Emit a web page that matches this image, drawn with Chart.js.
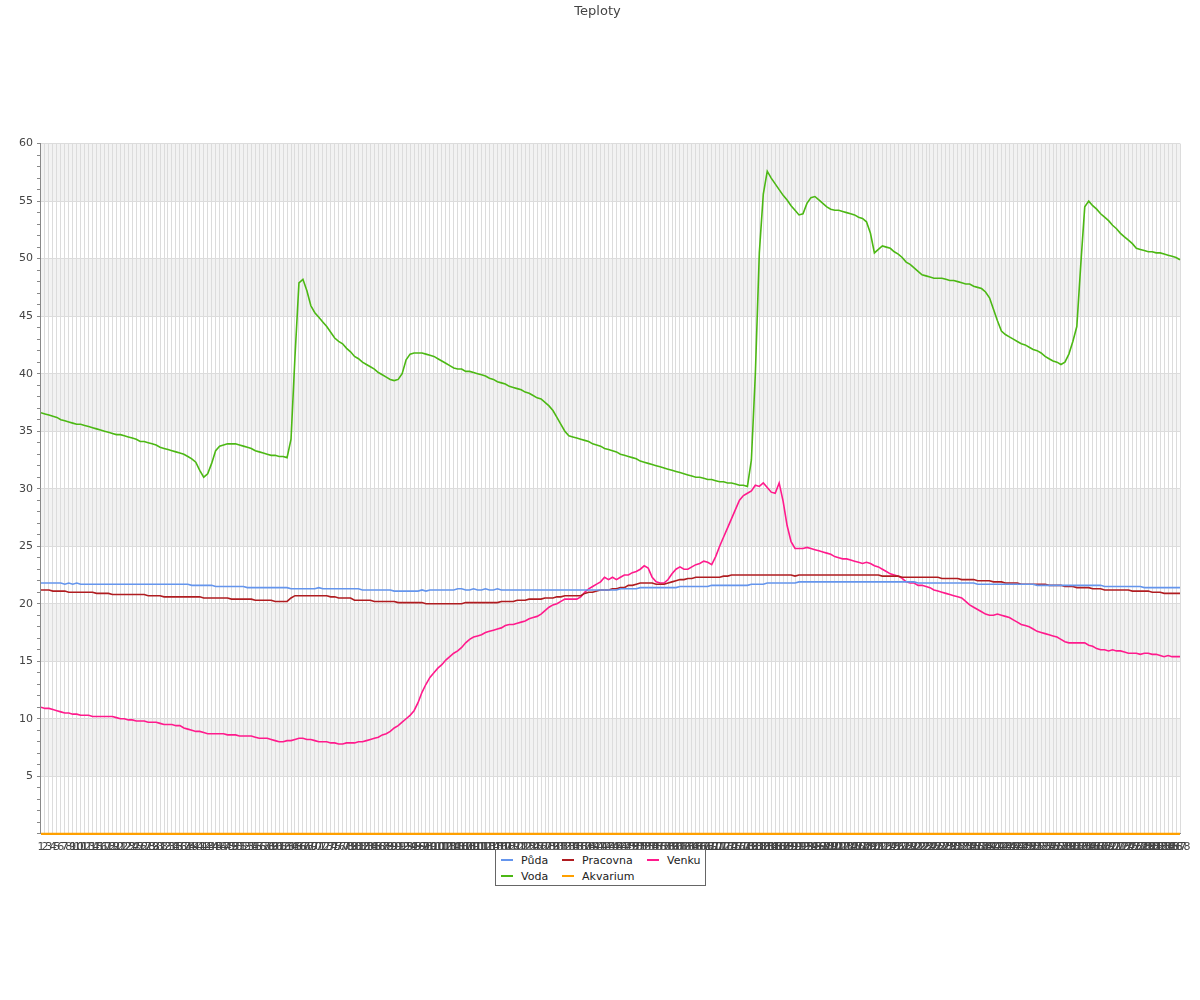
<!DOCTYPE html>
<html>
<head>
<meta charset="utf-8">
<script src="https://cdn.jsdelivr.net/npm/chart.js@4"></script>
<style>
  body { margin: 0; background: #fff; font-family: 'DejaVu Sans', sans-serif; }
  #wrap { position: relative; width: 1200px; height: 1000px; }
  #legend {
    position: absolute; left: 495px; top: 849px; width: 209px; height: 35px;
    border: 1px solid #666; background: #fff; font-size: 11px; color: #222;
  }
  #legend .it { position: absolute; white-space: nowrap; line-height: 13px; }
  #legend .mk { display: inline-block; width: 12px; height: 2px; vertical-align: middle; margin-right: 8px; position: relative; top: -1px; }
</style>
</head>
<body>
<div id="wrap">
  <canvas id="chart" width="1200" height="1000"></canvas>
  <div id="legend"></div>
</div>
<script>
// x: one sample every 5 minutes, 288 points
const labels = Array.from({ length: 288 }, (_, i) => String(i + 1));

const puda = [
  21.8, 21.8, 21.8, 21.8, 21.8, 21.8, 21.7, 21.8, 21.7, 21.8,
  21.7, 21.7, 21.7, 21.7, 21.7, 21.7, 21.7, 21.7, 21.7, 21.7,
  21.7, 21.7, 21.7, 21.7, 21.7, 21.7, 21.7, 21.7, 21.7, 21.7,
  21.7, 21.7, 21.7, 21.7, 21.7, 21.7, 21.7, 21.7, 21.6, 21.6,
  21.6, 21.6, 21.6, 21.6, 21.5, 21.5, 21.5, 21.5, 21.5, 21.5,
  21.5, 21.5, 21.4, 21.4, 21.4, 21.4, 21.4, 21.4, 21.4, 21.4,
  21.4, 21.4, 21.4, 21.3, 21.3, 21.3, 21.3, 21.3, 21.3, 21.3,
  21.4, 21.3, 21.3, 21.3, 21.3, 21.3, 21.3, 21.3, 21.3, 21.3,
  21.3, 21.2, 21.2, 21.2, 21.2, 21.2, 21.2, 21.2, 21.2, 21.1,
  21.1, 21.1, 21.1, 21.1, 21.1, 21.1, 21.2, 21.1, 21.2, 21.2,
  21.2, 21.2, 21.2, 21.2, 21.2, 21.3, 21.3, 21.2, 21.2, 21.3,
  21.2, 21.2, 21.3, 21.2, 21.2, 21.3, 21.2, 21.2, 21.2, 21.2,
  21.2, 21.2, 21.2, 21.2, 21.2, 21.2, 21.2, 21.2, 21.2, 21.2,
  21.2, 21.2, 21.2, 21.2, 21.2, 21.2, 21.2, 21.2, 21.2, 21.2,
  21.2, 21.2, 21.2, 21.2, 21.2, 21.2, 21.3, 21.3, 21.3, 21.3,
  21.3, 21.4, 21.4, 21.4, 21.4, 21.4, 21.4, 21.4, 21.4, 21.4,
  21.4, 21.5, 21.5, 21.5, 21.5, 21.5, 21.5, 21.5, 21.5, 21.6,
  21.6, 21.6, 21.6, 21.6, 21.6, 21.6, 21.6, 21.6, 21.6, 21.7,
  21.7, 21.7, 21.7, 21.8, 21.8, 21.8, 21.8, 21.8, 21.8, 21.8,
  21.8, 21.9, 21.9, 21.9, 21.9, 21.9, 21.9, 21.9, 21.9, 21.9,
  21.9, 21.9, 21.9, 21.9, 21.9, 21.9, 21.9, 21.9, 21.9, 21.9,
  21.9, 21.9, 21.9, 21.9, 21.9, 21.9, 21.9, 21.9, 21.9, 21.9,
  21.9, 21.8, 21.8, 21.8, 21.8, 21.8, 21.8, 21.8, 21.8, 21.8,
  21.8, 21.8, 21.8, 21.8, 21.8, 21.8, 21.7, 21.7, 21.7, 21.7,
  21.7, 21.7, 21.7, 21.7, 21.7, 21.7, 21.7, 21.7, 21.7, 21.7,
  21.7, 21.6, 21.6, 21.6, 21.6, 21.6, 21.6, 21.6, 21.6, 21.6,
  21.6, 21.6, 21.6, 21.6, 21.6, 21.6, 21.6, 21.6, 21.5, 21.5,
  21.5, 21.5, 21.5, 21.5, 21.5, 21.5, 21.5, 21.5, 21.4, 21.4,
  21.4, 21.4, 21.4, 21.4, 21.4, 21.4, 21.4, 21.4
];

const voda = [
  36.6, 36.5, 36.4, 36.3, 36.2, 36.0, 35.9, 35.8, 35.7, 35.6,
  35.6, 35.5, 35.4, 35.3, 35.2, 35.1, 35.0, 34.9, 34.8, 34.7,
  34.7, 34.6, 34.5, 34.4, 34.3, 34.1, 34.1, 34.0, 33.9, 33.8,
  33.6, 33.5, 33.4, 33.3, 33.2, 33.1, 33.0, 32.8, 32.6, 32.3,
  31.6, 31.0, 31.3, 32.2, 33.3, 33.7, 33.8, 33.9, 33.9, 33.9,
  33.8, 33.7, 33.6, 33.5, 33.3, 33.2, 33.1, 33.0, 32.9, 32.9,
  32.8, 32.8, 32.7, 34.3, 41.5, 47.9, 48.2, 47.2, 45.9, 45.3,
  44.9, 44.5, 44.1, 43.6, 43.1, 42.8, 42.6, 42.2, 41.9, 41.5,
  41.3, 41.0, 40.8, 40.6, 40.4, 40.1, 39.9, 39.7, 39.5, 39.4,
  39.5, 40.0, 41.2, 41.7, 41.8, 41.8, 41.8, 41.7, 41.6, 41.5,
  41.3, 41.1, 40.9, 40.7, 40.5, 40.4, 40.4, 40.2, 40.2, 40.1,
  40.0, 39.9, 39.8, 39.6, 39.5, 39.3, 39.2, 39.1, 38.9, 38.8,
  38.7, 38.6, 38.4, 38.3, 38.1, 37.9, 37.8, 37.5, 37.2, 36.8,
  36.2, 35.6, 35.0, 34.6, 34.5, 34.4, 34.3, 34.2, 34.1, 33.9,
  33.8, 33.7, 33.5, 33.4, 33.3, 33.2, 33.0, 32.9, 32.8, 32.7,
  32.6, 32.4, 32.3, 32.2, 32.1, 32.0, 31.9, 31.8, 31.7, 31.6,
  31.5, 31.4, 31.3, 31.2, 31.1, 31.0, 31.0, 30.9, 30.8, 30.8,
  30.7, 30.6, 30.6, 30.5, 30.5, 30.4, 30.3, 30.3, 30.2, 32.5,
  40.0, 50.5, 55.6, 57.6, 57.0, 56.5, 56.0, 55.5, 55.1, 54.6,
  54.2, 53.8, 53.9, 54.8, 55.3, 55.4, 55.1, 54.8, 54.5, 54.3,
  54.2, 54.2, 54.1, 54.0, 53.9, 53.8, 53.6, 53.5, 53.2, 52.2,
  50.5, 50.8, 51.1, 51.0, 50.9, 50.6, 50.4, 50.1, 49.7, 49.5,
  49.2, 48.9, 48.6, 48.5, 48.4, 48.3, 48.3, 48.3, 48.2, 48.1,
  48.1, 48.0, 47.9, 47.8, 47.8, 47.6, 47.5, 47.4, 47.1, 46.6,
  45.6, 44.6, 43.7, 43.4, 43.2, 43.0, 42.8, 42.6, 42.5, 42.3,
  42.1, 42.0, 41.8, 41.5, 41.3, 41.1, 41.0, 40.8, 41.0, 41.7,
  42.8, 44.1, 49.5, 54.5, 55.0, 54.6, 54.3, 53.9, 53.6, 53.3,
  52.9, 52.6, 52.2, 51.9, 51.6, 51.3, 50.9, 50.8, 50.7, 50.6,
  50.6, 50.5, 50.5, 50.4, 50.3, 50.2, 50.1, 49.9
];

const pracovna = [
  21.2, 21.2, 21.2, 21.1, 21.1, 21.1, 21.1, 21.0, 21.0, 21.0,
  21.0, 21.0, 21.0, 21.0, 20.9, 20.9, 20.9, 20.9, 20.8, 20.8,
  20.8, 20.8, 20.8, 20.8, 20.8, 20.8, 20.8, 20.7, 20.7, 20.7,
  20.7, 20.6, 20.6, 20.6, 20.6, 20.6, 20.6, 20.6, 20.6, 20.6,
  20.6, 20.5, 20.5, 20.5, 20.5, 20.5, 20.5, 20.5, 20.4, 20.4,
  20.4, 20.4, 20.4, 20.4, 20.3, 20.3, 20.3, 20.3, 20.3, 20.2,
  20.2, 20.2, 20.2, 20.5, 20.7, 20.7, 20.7, 20.7, 20.7, 20.7,
  20.7, 20.7, 20.7, 20.6, 20.6, 20.5, 20.5, 20.5, 20.5, 20.3,
  20.3, 20.3, 20.3, 20.3, 20.2, 20.2, 20.2, 20.2, 20.2, 20.2,
  20.1, 20.1, 20.1, 20.1, 20.1, 20.1, 20.1, 20.0, 20.0, 20.0,
  20.0, 20.0, 20.0, 20.0, 20.0, 20.0, 20.0, 20.1, 20.1, 20.1,
  20.1, 20.1, 20.1, 20.1, 20.1, 20.1, 20.2, 20.2, 20.2, 20.2,
  20.3, 20.3, 20.3, 20.4, 20.4, 20.4, 20.4, 20.5, 20.5, 20.5,
  20.6, 20.6, 20.7, 20.7, 20.7, 20.7, 20.7, 20.9, 21.0, 21.0,
  21.1, 21.2, 21.2, 21.2, 21.3, 21.3, 21.4, 21.4, 21.6, 21.6,
  21.7, 21.8, 21.8, 21.8, 21.8, 21.7, 21.7, 21.7, 21.8, 21.9,
  22.0, 22.1, 22.1, 22.2, 22.2, 22.3, 22.3, 22.3, 22.3, 22.3,
  22.3, 22.3, 22.4, 22.4, 22.5, 22.5, 22.5, 22.5, 22.5, 22.5,
  22.5, 22.5, 22.5, 22.5, 22.5, 22.5, 22.5, 22.5, 22.5, 22.5,
  22.4, 22.5, 22.5, 22.5, 22.5, 22.5, 22.5, 22.5, 22.5, 22.5,
  22.5, 22.5, 22.5, 22.5, 22.5, 22.5, 22.5, 22.5, 22.5, 22.5,
  22.5, 22.5, 22.4, 22.4, 22.4, 22.4, 22.4, 22.3, 22.3, 22.3,
  22.3, 22.3, 22.3, 22.3, 22.3, 22.3, 22.3, 22.2, 22.2, 22.2,
  22.2, 22.2, 22.1, 22.1, 22.1, 22.1, 22.0, 22.0, 22.0, 22.0,
  21.9, 21.9, 21.9, 21.8, 21.8, 21.8, 21.8, 21.7, 21.7, 21.7,
  21.7, 21.7, 21.7, 21.7, 21.6, 21.6, 21.6, 21.6, 21.5, 21.5,
  21.5, 21.4, 21.4, 21.4, 21.4, 21.3, 21.3, 21.3, 21.2, 21.2,
  21.2, 21.2, 21.2, 21.2, 21.2, 21.1, 21.1, 21.1, 21.1, 21.1,
  21.0, 21.0, 21.0, 20.9, 20.9, 20.9, 20.9, 20.9
];

const akvarium = [
  0, 0, 0, 0, 0, 0, 0, 0, 0, 0, 0, 0, 0, 0, 0, 0, 0, 0, 0, 0, 0, 0, 0, 0,
  0, 0, 0, 0, 0, 0, 0, 0, 0, 0, 0, 0, 0, 0, 0, 0, 0, 0, 0, 0, 0, 0, 0, 0,
  0, 0, 0, 0, 0, 0, 0, 0, 0, 0, 0, 0, 0, 0, 0, 0, 0, 0, 0, 0, 0, 0, 0, 0,
  0, 0, 0, 0, 0, 0, 0, 0, 0, 0, 0, 0, 0, 0, 0, 0, 0, 0, 0, 0, 0, 0, 0, 0,
  0, 0, 0, 0, 0, 0, 0, 0, 0, 0, 0, 0, 0, 0, 0, 0, 0, 0, 0, 0, 0, 0, 0, 0,
  0, 0, 0, 0, 0, 0, 0, 0, 0, 0, 0, 0, 0, 0, 0, 0, 0, 0, 0, 0, 0, 0, 0, 0,
  0, 0, 0, 0, 0, 0, 0, 0, 0, 0, 0, 0, 0, 0, 0, 0, 0, 0, 0, 0, 0, 0, 0, 0,
  0, 0, 0, 0, 0, 0, 0, 0, 0, 0, 0, 0, 0, 0, 0, 0, 0, 0, 0, 0, 0, 0, 0, 0,
  0, 0, 0, 0, 0, 0, 0, 0, 0, 0, 0, 0, 0, 0, 0, 0, 0, 0, 0, 0, 0, 0, 0, 0,
  0, 0, 0, 0, 0, 0, 0, 0, 0, 0, 0, 0, 0, 0, 0, 0, 0, 0, 0, 0, 0, 0, 0, 0,
  0, 0, 0, 0, 0, 0, 0, 0, 0, 0, 0, 0, 0, 0, 0, 0, 0, 0, 0, 0, 0, 0, 0, 0,
  0, 0, 0, 0, 0, 0, 0, 0, 0, 0, 0, 0, 0, 0, 0, 0, 0, 0, 0, 0, 0, 0, 0, 0
];

const venku = [
  11.0, 10.9, 10.9, 10.8, 10.7, 10.6, 10.5, 10.5, 10.4, 10.4,
  10.3, 10.3, 10.3, 10.2, 10.2, 10.2, 10.2, 10.2, 10.2, 10.1,
  10.0, 10.0, 9.9, 9.9, 9.8, 9.8, 9.8, 9.7, 9.7, 9.7,
  9.6, 9.5, 9.5, 9.5, 9.4, 9.4, 9.2, 9.1, 9.0, 8.9,
  8.9, 8.8, 8.7, 8.7, 8.7, 8.7, 8.7, 8.6, 8.6, 8.6,
  8.5, 8.5, 8.5, 8.5, 8.4, 8.3, 8.3, 8.3, 8.2, 8.1,
  8.0, 8.0, 8.1, 8.1, 8.2, 8.3, 8.3, 8.2, 8.2, 8.1,
  8.0, 8.0, 8.0, 7.9, 7.9, 7.8, 7.8, 7.9, 7.9, 7.9,
  8.0, 8.0, 8.1, 8.2, 8.3, 8.4, 8.6, 8.7, 8.9, 9.2,
  9.4, 9.7, 10.0, 10.3, 10.7, 11.4, 12.3, 13.0, 13.6, 14.0,
  14.4, 14.7, 15.1, 15.4, 15.7, 15.9, 16.2, 16.6, 16.9, 17.1,
  17.2, 17.3, 17.5, 17.6, 17.7, 17.8, 17.9, 18.1, 18.2, 18.2,
  18.3, 18.4, 18.5, 18.7, 18.8, 18.9, 19.1, 19.4, 19.7, 19.9,
  20.0, 20.2, 20.4, 20.4, 20.4, 20.4, 20.6, 21.0, 21.3, 21.5,
  21.7, 21.9, 22.3, 22.1, 22.3, 22.1, 22.3, 22.5, 22.5, 22.7,
  22.8, 23.0, 23.3, 23.1, 22.3, 21.9, 21.8, 21.8, 22.1, 22.6,
  23.0, 23.2, 23.0, 23.0, 23.2, 23.4, 23.5, 23.7, 23.6, 23.4,
  24.1, 25.0, 25.8, 26.6, 27.4, 28.2, 29.0, 29.4, 29.6, 29.8,
  30.3, 30.2, 30.5, 30.1, 29.7, 29.6, 30.5, 28.9, 26.8, 25.4,
  24.8, 24.8, 24.8, 24.9, 24.8, 24.7, 24.6, 24.5, 24.4, 24.3,
  24.1, 24.0, 23.9, 23.9, 23.8, 23.7, 23.6, 23.5, 23.6, 23.5,
  23.3, 23.2, 23.0, 22.8, 22.6, 22.5, 22.4, 22.2, 21.9, 21.8,
  21.8, 21.6, 21.6, 21.5, 21.4, 21.2, 21.1, 21.0, 20.9, 20.8,
  20.7, 20.6, 20.5, 20.2, 19.9, 19.7, 19.5, 19.3, 19.1, 19.0,
  19.0, 19.1, 19.0, 18.9, 18.8, 18.6, 18.4, 18.2, 18.1, 18.0,
  17.8, 17.6, 17.5, 17.4, 17.3, 17.2, 17.1, 16.9, 16.7, 16.6,
  16.6, 16.6, 16.6, 16.6, 16.4, 16.3, 16.1, 16.0, 16.0, 15.9,
  16.0, 15.9, 15.9, 15.8, 15.7, 15.7, 15.7, 15.6, 15.7, 15.7,
  15.6, 15.6, 15.5, 15.4, 15.5, 15.4, 15.4, 15.4
];

const yBands = [[5, 10], [15, 20], [25, 30], [35, 40], [45, 50], [55, 60]];

const series = [
  { label: 'Půda', data: puda, color: '#6495ed', width: 1.6 },
  { label: 'Voda', data: voda, color: '#4cb814', width: 1.6 },
  { label: 'Pracovna', data: pracovna, color: '#b01c20', width: 1.6 },
  { label: 'Akvarium', data: akvarium, color: '#ffa000', width: 2.2 },
  { label: 'Venku', data: venku, color: '#ff1a8c', width: 1.6 },
];

const FONT = 'DejaVu Sans';

// grey stripes behind the grid
const bandsPlugin = {
  id: 'bands',
  beforeDraw(chart) {
    const { ctx, chartArea, scales } = chart;
    ctx.save();
    ctx.fillStyle = '#f2f2f2';
    yBands.forEach(([lo, hi]) => {
      const top = scales.y.getPixelForValue(hi);
      const bot = scales.y.getPixelForValue(lo);
      ctx.fillRect(chartArea.left, top, chartArea.right - chartArea.left, bot - top);
    });
    ctx.restore();
  }
};

new Chart(document.getElementById('chart'), {
  type: 'line',
  data: {
    labels,
    datasets: series.map(s => ({
      label: s.label,
      data: s.data,
      borderColor: s.color,
      backgroundColor: s.color,
      borderWidth: s.width,
      pointRadius: 0,
      tension: 0,
      clip: false,
    })),
  },
  options: {
    responsive: false,
    animation: false,
    layout: { padding: { left: 15, right: 20, top: 0, bottom: 144 } },
    plugins: {
      legend: { display: false },
      tooltip: { enabled: false },
      title: {
        display: true,
        text: 'Teploty',
        color: '#444',
        font: { family: FONT, size: 13, weight: 'normal' },
        padding: { top: 4, bottom: 124 },
      },
    },
    scales: {
      x: {
        ticks: {
          autoSkip: false, maxRotation: 0, minRotation: 0,
          color: '#444', font: { family: FONT, size: 11 }, padding: 2,
        },
        grid: { color: '#dcdcdc', tickLength: 5, tickColor: 'rgba(0,0,0,0)' },
        border: { color: '#888' },
      },
      y: {
        min: 0, max: 60,
        ticks: {
          stepSize: 1,
          autoSkip: false,
          color: '#444', font: { family: FONT, size: 11 }, padding: 4,
          callback: v => (v % 5 === 0 && v > 0 ? String(v) : ''),
        },
        grid: {
          color: c => (c.tick && c.tick.value % 5 === 0 ? '#dcdcdc' : 'rgba(0,0,0,0)'),
          tickColor: '#888',
          tickLength: 4,
        },
        border: { color: '#888' },
      },
    },
  },
  plugins: [bandsPlugin],
});

// legend box laid out as a 3-column table
const legendOrder = ['Půda', 'Pracovna', 'Venku', 'Voda', 'Akvarium'];
const colX = [5, 66, 151];
const rowY = [4, 20];
const legend = document.getElementById('legend');
legendOrder.forEach((name, k) => {
  const s = series.find(d => d.label === name);
  const el = document.createElement('div');
  el.className = 'it';
  el.style.left = colX[k % 3] + 'px';
  el.style.top = rowY[Math.floor(k / 3)] + 'px';
  el.innerHTML = '<span class="mk" style="background:' + s.color + '"></span>' + name;
  legend.appendChild(el);
});
</script>
</body>
</html>
